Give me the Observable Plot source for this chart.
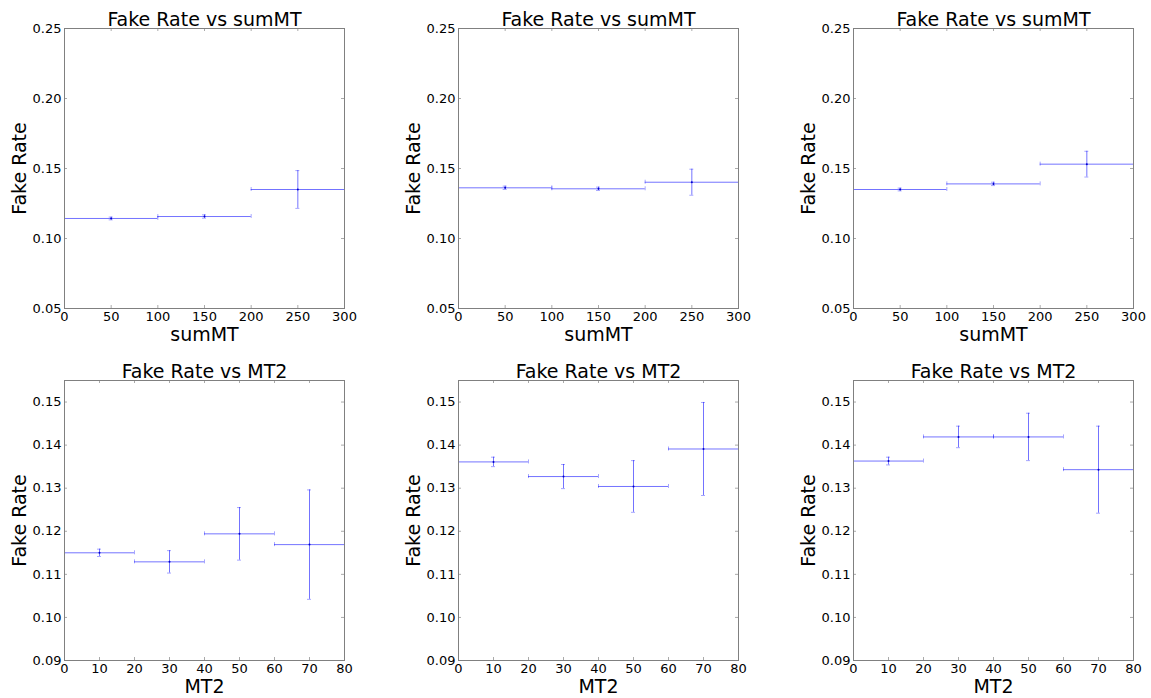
<!DOCTYPE html>
<html><head><meta charset="utf-8">
<script src="https://cdn.jsdelivr.net/npm/d3@7"></script>
<script src="https://cdn.jsdelivr.net/npm/@observablehq/plot@0.6"></script>
<style>
body{margin:0;background:#fff;overflow:hidden;}
#root{position:relative;width:1151px;height:698px;font-family:"DejaVu Sans",sans-serif;}
.panel{position:absolute;}
.panel svg{overflow:visible;background:transparent;}
</style></head><body><div id="root"></div>
<script>
// ---- data ----
const sumMTEdges = [0, 100, 200, 300];
const sumMTCenters = [50, 150, 250];
const sumMTTicks = [0, 50, 100, 150, 200, 250, 300];
const sumMTRateTicks = [0.05, 0.10, 0.15, 0.20, 0.25];

const mt2Edges = [0, 20, 40, 60, 80];
const mt2Centers = [10, 30, 50, 70];
const mt2Ticks = [0, 10, 20, 30, 40, 50, 60, 70, 80];
const mt2RateTicks = [0.09, 0.10, 0.11, 0.12, 0.13, 0.14, 0.15];

const rate1SumMT = [0.1143, 0.1157, 0.1350];
const err1SumMT  = [0.0010, 0.0012, 0.0135];
const rate2SumMT = [0.1362, 0.1355, 0.1402];
const err2SumMT  = [0.0012, 0.0012, 0.0093];
const rate3SumMT = [0.1350, 0.1390, 0.1531];
const err3SumMT  = [0.0010, 0.0012, 0.0092];

const rate1MT2 = [0.1150, 0.1129, 0.1194, 0.1169];
const err1MT2  = [0.00085, 0.0026, 0.0061, 0.0127];
const rate2MT2 = [0.1361, 0.1327, 0.1304, 0.1391];
const err2MT2  = [0.0011, 0.0028, 0.0060, 0.0108];
const rate3MT2 = [0.1363, 0.1419, 0.1419, 0.1343];
const err3MT2  = [0.0009, 0.0025, 0.0055, 0.0101];

const titleSumMT = "Fake Rate vs sumMT";
const titleMT2 = "Fake Rate vs MT2";
const yLabel = "Fake Rate";

// ---- layout ----
const FONT = '"DejaVu Sans", sans-serif';
const FRAME = "#808080";
const TICK = "#aaaaaa";
const LINE = "#0000ff";
const frameLefts = [64, 458, 853];
const PW = 280, PH = 280;

function makePanel({left, top, mt, mb, edges, centers, values, errors, xticks, yticks, ydomain, title, xlabel}) {
  const data = centers.map((c, i) => ({c, lo: edges[i], hi: edges[i + 1], v: values[i], e: errors[i]}));
  const ML = 64, MR = 20;
  const chart = Plot.plot({
    width: ML + PW + MR, height: mt + PH + mb,
    marginLeft: ML, marginRight: MR, marginTop: mt, marginBottom: mb,
    x: {domain: [edges[0], edges[edges.length - 1]], label: null},
    y: {domain: ydomain, label: null},
    style: {fontFamily: FONT, fontSize: "13px", background: "transparent", color: "#000", overflow: "visible"},
    marks: [
      Plot.axisX(xticks, {tickSize: 0, tickPadding: 3, fontSize: 13, fill: "#000"}),
      Plot.axisY(yticks, {tickSize: 0, tickPadding: 3, fontSize: 13, fill: "#000", tickFormat: d3.format(".2f")}),
      // inward ticks on all four sides
      Plot.tickX(xticks, {x: d => d, insetTop: PH - 3, stroke: TICK}),
      Plot.tickX(xticks, {x: d => d, insetBottom: PH - 3, stroke: TICK}),
      Plot.tickY(yticks, {y: d => d, insetRight: PW - 3, stroke: TICK}),
      Plot.tickY(yticks, {y: d => d, insetLeft: PW - 3, stroke: TICK}),
      // error bars
      Plot.ruleY(data, {y: "v", x1: "lo", x2: "hi", stroke: LINE, strokeOpacity: 0.55}),
      Plot.ruleX(data, {x: "c", y1: d => d.v - d.e, y2: d => d.v + d.e, stroke: LINE, strokeOpacity: 0.55}),
      // caps
      Plot.ruleY(data, {y: d => d.v + d.e, x1: "c", x2: "c", insetLeft: -2, insetRight: -2, stroke: LINE, strokeOpacity: 0.35}),
      Plot.ruleY(data, {y: d => d.v - d.e, x1: "c", x2: "c", insetLeft: -2, insetRight: -2, stroke: LINE, strokeOpacity: 0.35}),
      Plot.ruleX(data, {x: "lo", y1: "v", y2: "v", insetTop: -2, insetBottom: -2, stroke: LINE, strokeOpacity: 0.35}),
      Plot.ruleX(data, {x: "hi", y1: "v", y2: "v", insetTop: -2, insetBottom: -2, stroke: LINE, strokeOpacity: 0.35}),
      Plot.dot(data, {x: "c", y: "v", r: 1, fill: "#0000cc", stroke: null}),
      Plot.frame({stroke: FRAME}),
      // texts
      Plot.text([title], {frameAnchor: "top", lineAnchor: "bottom", dy: -3, fontSize: 19, fill: "#000"}),
      Plot.text([yLabel], {frameAnchor: "left", textAnchor: "middle", lineAnchor: "middle", rotate: -90, dx: -45, fontSize: 19, fill: "#000"}),
      Plot.text([xlabel], {frameAnchor: "bottom", lineAnchor: "top", dy: 19, fontSize: 19, fill: "#000"})
    ]
  });
  const div = document.createElement("div");
  div.className = "panel";
  div.style.left = (left - ML) + "px";
  div.style.top = top + "px";
  div.style.width = (ML + PW + MR) + "px";
  div.appendChild(chart);
  document.getElementById("root").appendChild(div);
}

const topRow = [[rate1SumMT, err1SumMT], [rate2SumMT, err2SumMT], [rate3SumMT, err3SumMT]];
const bottomRow = [[rate1MT2, err1MT2], [rate2MT2, err2MT2], [rate3MT2, err3MT2]];

topRow.forEach(([values, errors], i) => makePanel({
  left: frameLefts[i], top: 0, mt: 28, mb: 40,
  edges: sumMTEdges, centers: sumMTCenters, values, errors,
  xticks: sumMTTicks, yticks: sumMTRateTicks, ydomain: [0.05, 0.25],
  title: titleSumMT, xlabel: "sumMT"
}));
bottomRow.forEach(([values, errors], i) => makePanel({
  left: frameLefts[i], top: 348, mt: 32, mb: 38,
  edges: mt2Edges, centers: mt2Centers, values, errors,
  xticks: mt2Ticks, yticks: mt2RateTicks, ydomain: [0.09, 0.155],
  title: titleMT2, xlabel: "MT2"
}));
</script></body></html>
